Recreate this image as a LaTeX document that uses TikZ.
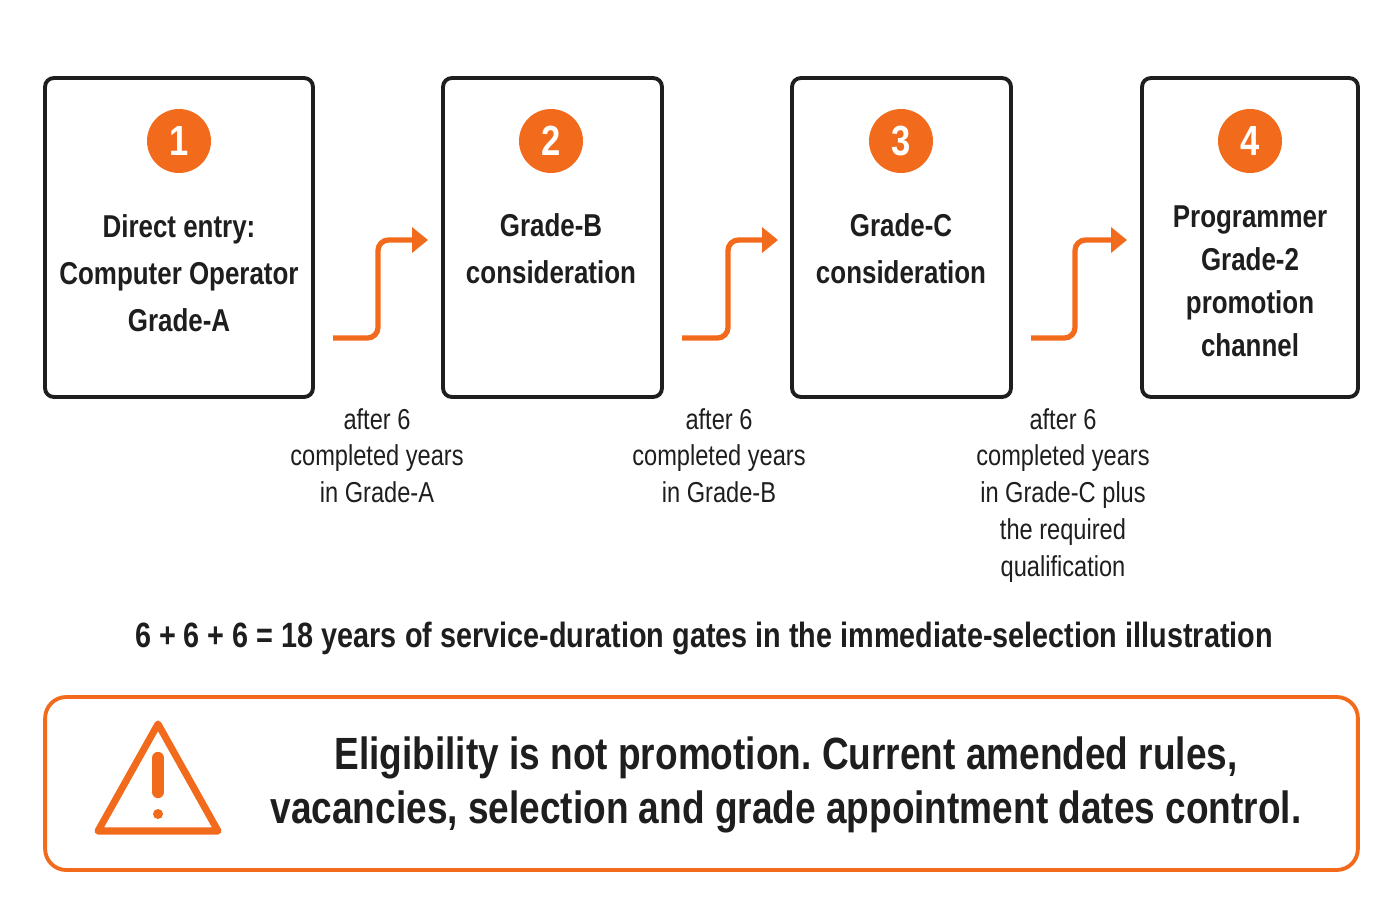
\documentclass[tikz,border=0pt]{standalone}
\usepackage{fontspec}
\setmainfont[FakeStretch=0.82]{Liberation Sans}
\usepackage{tikz}
\usetikzlibrary{arrows.meta}
\definecolor{accent}{HTML}{F26A1B}
\definecolor{ink}{HTML}{1E1E1E}
\frenchspacing

\begin{document}
\begin{tikzpicture}[x=0.02cm,y=-0.02cm]
  \tikzset{stage/.style={draw=ink,line width=2.2pt,rounded corners=5pt,minimum width=#1,minimum height=6.38cm,inner sep=0pt}}
  \tikzset{badge/.style={circle,fill=accent,text=white,minimum size=1.28cm,inner sep=0pt,font=\fontsize{24}{24}\selectfont\bfseries}}
  \tikzset{title/.style={align=center,text=ink,font=\fontsize{18}{26.6}\selectfont\bfseries}}
  \tikzset{gate/.style={align=center,text=ink,font=\fontsize{16.4}{21}\selectfont}}
  \tikzset{rise/.style={accent,line width=3pt,-{Triangle[length=9pt,width=14pt]}}}
  \useasboundingbox (0,0) rectangle (1400,900);
  % stages
  \node[stage=5.36cm] (boxA) at (179,237.5) {};
  \node[stage=4.38cm] (boxB) at (552.5,237.5) {};
  \node[stage=4.38cm] (boxC) at (901.5,237.5) {};
  \node[stage=4.32cm] (boxD) at (1250,237.5) {};
  \node[badge] (numA) at (179,141) {1};
  \node[badge] (numB) at (551,141) {2};
  \node[badge] (numC) at (901,141) {3};
  \node[badge] (numD) at (1250,141) {4};
  \node[title] (txtA) at (179,273) {Direct entry:\\Computer Operator\\Grade-A};
  \node[title] (txtB) at (551,249) {Grade-B\\consideration};
  \node[title] (txtC) at (901,249) {Grade-C\\consideration};
  \node[title,font=\fontsize{18}{24.4}\selectfont\bfseries] (txtD) at (1250,281) {Programmer\\Grade-2\\promotion\\channel};
  % step arrows
  \coordinate (fromA) at (333,338); \coordinate (toB) at (428,240);
  \coordinate (fromB) at (682,338); \coordinate (toC) at (778,240);
  \coordinate (fromC) at (1031,338); \coordinate (toD) at (1127,240);
  \draw[rise,rounded corners=6pt] (fromA) -| (378,240) -- (toB);
  \draw[rise,rounded corners=6pt] (fromB) -| (728,240) -- (toC);
  \draw[rise,rounded corners=6pt] (fromC) -| (1075,240) -- (toD);
  % gates
  \node[gate,anchor=north] (gateA) at (377,402) {after 6\\completed years\\in Grade-A};
  \node[gate,anchor=north] (gateB) at (719,402) {after 6\\completed years\\in Grade-B};
  \node[gate,anchor=north] (gateC) at (1063,402) {after 6\\completed years\\in Grade-C plus\\the required\\qualification};
  \node[title,font=\fontsize{20}{26}\selectfont\bfseries] (total) at (704,638) {6 + 6 + 6 = 18 years of service-duration gates in the immediate-selection illustration};
  % warning
  \node[draw=accent,line width=2.2pt,rounded corners=12pt,minimum width=26.26cm,minimum height=3.46cm] (note) at (701.5,783.5) {};
  \draw[accent,line width=4pt,line join=round] (158,724) -- (218,831) -- (98,831) -- cycle;
  \draw[accent,line width=7pt,line cap=round] (158,758) -- (158,792);
  \fill[accent] (158,814) circle (5);
  \node[title,font=\fontsize{25.7}{31.2}\selectfont\bfseries] (warn) at (786,785) {Eligibility is not promotion. Current amended rules,\\vacancies, selection and grade appointment dates control.};
\end{tikzpicture}
\end{document}
